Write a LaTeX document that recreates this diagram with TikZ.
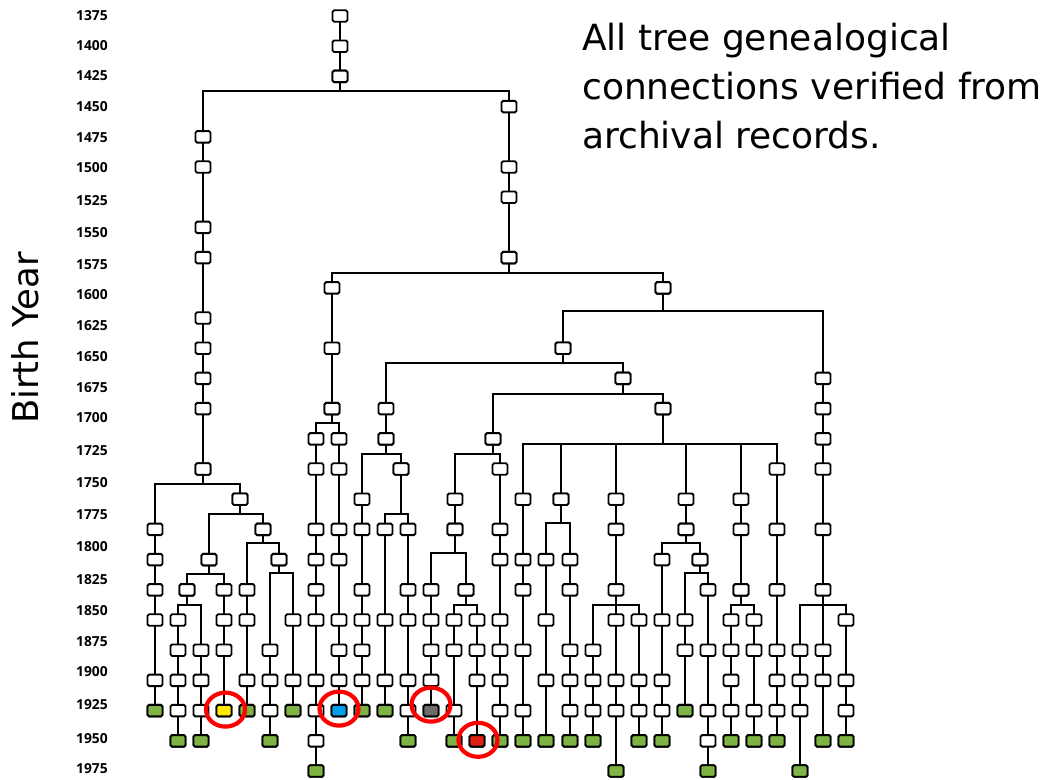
\documentclass[tikz,border=0pt]{standalone}
\usepackage{fontspec}
\usepackage{tikz}
\usetikzlibrary{backgrounds}
\newfontfamily\notefont{DejaVu Sans}
\newfontfamily\yearfont{Open Sans}
\definecolor{icbrte}{rgb}{0.486,0.702,0.259}
\definecolor{ffebqq}{rgb}{1.,0.922,0.}
\definecolor{qqaqep}{rgb}{0.,0.627,0.914}
\definecolor{ueueue}{rgb}{0.431,0.431,0.431}
\definecolor{eqeqwq}{rgb}{0.878,0.125,0.063}
\definecolor{ffqqqq}{rgb}{1.,0.,0.}
% one line of descent: boxes in one column, last box filled with #4
\newcommand{\kinline}[4]{%
  \foreach \k [count=\i] in {#3}{%
    \ifnum\i=1 \xdef\toprow{\k}\fi
    \xdef\endrow{\k}%
    \node[pers] (#1-\k) at (#2,{16+30.2*\k}) {};
  }%
  \node[pers,fill=#4] (#1-\endrow) at (#2,{16+30.2*\endrow}) {};
  \begin{scope}[on background layer]
    \draw[tie] (#1-\toprow.center) -- (#1-\endrow.center);
  \end{scope}%
}
% parent #1, bar at height #2, children #3
\newcommand{\offspring}[3]{%
  \coordinate (split) at (0,#2);
  \begin{scope}[on background layer]
    \foreach \c in {#3}
      \draw[tie] (#1.center) -- (#1.center |- split) -| (\c.center);
  \end{scope}%
}
\begin{document}
\begin{tikzpicture}[x=1pt,y=-1pt,line cap=round,line join=miter,
  pers/.style={draw,line width=1.9pt,fill=white,rounded corners=1.6pt,
    minimum width=15pt,minimum height=11.5pt,inner sep=0pt},
  tie/.style={line width=1.9pt},
  ring/.style={draw=ffqqqq,line width=4.2pt},
  yearlab/.style={anchor=west,inner sep=0pt,font=\yearfont\bfseries\fontsize{13.8}{13.8}\selectfont},
  note/.style={anchor=base west,inner sep=0pt,font=\notefont\fontsize{36}{36}\selectfont}]
\useasboundingbox (0,0) rectangle (1056,779);
% year axis
\foreach \yr/\yy in {1375/16,1400/46,1425/76,1450/107,1475/138,1500/168,1525/201,
  1550/233,1575/265,1600/295,1625/326,1650/357,1675/388,1700/418,1725/451,
  1750/483,1775/515,1800/547,1825/580,1850/611,1875/642,1900/672,1925/705,
  1950/739,1975/769}
  \node[yearlab] (yr\yr) at (76,\yy) {\yr};
\node[rotate=90,anchor=base,inner sep=0pt,font=\notefont\fontsize{35.5}{35.5}\selectfont] (axis) at (38,338) {Birth Year};
\node[note] (note1) at (582,50) {All tree genealogical};
\node[note] (note2) at (582,99) {connections verified from};
\node[note] (note3) at (582,148) {archival records.};
% trunk
\kinline{root}{340}{0,1,2}{white}
\kinline{w}{203}{4,5,7,8,10,11,12,13,15}{white}
\kinline{e}{509}{3,5,6,8}{white}
\offspring{root-2}{91}{w-4,e-3}
% western branch
\kinline{c0}{155}{17,18,19,20,22,23}{icbrte}
\kinline{p240}{240}{16}{white}
\offspring{w-15}{484}{c0-17,p240-16}
\kinline{p209}{209}{18}{white}
\kinline{p263}{263}{17}{white}
\offspring{p240-16}{514}{p209-18,p263-17}
\kinline{p187}{187}{19}{white}
\kinline{c3}{224}{19,20,21,23}{ffebqq}
\offspring{p209-18}{574}{p187-19,c3-19}
\kinline{c1}{178}{20,21,22,23,24}{icbrte}
\kinline{c2}{201}{21,22,23,24}{icbrte}
\offspring{p187-19}{605}{c1-20,c2-21}
\kinline{c4}{247}{19,20,22,23}{icbrte}
\kinline{p278}{279}{18}{white}
\offspring{p263-17}{543}{c4-19,p278-18}
\kinline{c5}{270}{21,22,23,24}{icbrte}
\kinline{c6}{293}{20,22,23}{icbrte}
\offspring{p278-18}{573}{c5-21,c6-20}
% eastern branch
\kinline{p332}{332}{9,11,13}{white}
\kinline{p663}{663}{9}{white}
\offspring{e-8}{273}{p332-9,p663-9}
\kinline{c7}{316}{14,15,17,18,19,20,22,23,24,25}{icbrte}
\kinline{c8}{339}{14,15,17,18,20,21,22,23}{qqaqep}
\offspring{p332-13}{423}{c7-14,c8-14}
\kinline{p563}{563}{11}{white}
\kinline{c29}{823}{12,13,14,15,17,19,21,22,24}{icbrte}
\offspring{p663-9}{311}{p563-11,c29-12}
\kinline{p386}{386}{13,14}{white}
\kinline{p623}{623}{12}{white}
\offspring{p563-11}{363}{p386-13,p623-12}
\kinline{c9}{362}{16,17,19,20,21,22,23}{icbrte}
\kinline{p402}{401}{15}{white}
\offspring{p386-14}{454}{c9-16,p402-15}
\kinline{c10}{385}{17,20,22,23}{icbrte}
\kinline{c11}{408}{17,19,20,22,23,24}{icbrte}
\offspring{p402-15}{514}{c10-17,c11-17}
\kinline{p493}{493}{14}{white}
\kinline{q663}{663}{13}{white}
\offspring{p623-12}{394}{p493-14,q663-13}
\kinline{p455}{455}{16,17}{white}
\kinline{c15}{500}{15,17,18,20,21,22,23,24}{icbrte}
\offspring{p493-14}{454}{p455-16,c15-15}
\kinline{c12}{431}{19,20,21,22,23}{ueueue}
\kinline{p466}{466}{19}{white}
\offspring{p455-17}{553}{c12-19,p466-19}
\kinline{c13}{454}{20,21,23,24}{icbrte}
\kinline{c14}{477}{20,21,22,24}{eqeqwq}
\offspring{p466-19}{605}{c13-20,c14-20}
\kinline{c16}{523}{16,18,19,21,23,24}{icbrte}
\kinline{p561}{561}{16}{white}
\kinline{c20}{616}{16,17,19,20,22,23,25}{icbrte}
\kinline{p686}{686}{16,17}{white}
\kinline{p741}{741}{16,17,19}{white}
\kinline{c27}{777}{15,17,19,21,22,23,24}{icbrte}
\offspring{q663-13}{444}{c16-16,p561-16,c20-16,p686-16,p741-16,c27-15}
\kinline{c17}{546}{18,20,22,24}{icbrte}
\kinline{c18}{570}{18,19,21,22,23,24}{icbrte}
\offspring{p561-16}{523}{c17-18,c18-18}
\kinline{c19}{593}{21,22,23,24}{icbrte}
\kinline{c21}{639}{20,22,23,24}{icbrte}
\offspring{c20-19}{605}{c19-21,c21-20}
\kinline{c22}{662}{18,20,22,23,24}{icbrte}
\kinline{p700}{700}{18}{white}
\offspring{p686-17}{543}{c22-18,p700-18}
\kinline{c23}{685}{20,21,23}{icbrte}
\kinline{c24}{708}{19,21,23,24,25}{icbrte}
\offspring{p700-18}{573}{c23-20,c24-19}
\kinline{c25}{731}{20,21,22,23,24}{icbrte}
\kinline{c26}{754}{20,21,23,24}{icbrte}
\offspring{p741-19}{605}{c25-20,c26-20}
\kinline{c28}{800}{21,22,23,25}{icbrte}
\kinline{c30}{846}{20,22,23,24}{icbrte}
\offspring{c29-19}{605}{c28-21,c30-20}
% marked individuals
\draw[ring] ([xshift=1.5pt,yshift=1pt]c3-23) ellipse (19.5 and 17);
\draw[ring] ([yshift=2pt]c8-23) ellipse (19.5 and 17);
\draw[ring] ([yshift=6pt]c12-23) ellipse (19.5 and 17);
\draw[ring] ([xshift=1pt,yshift=1pt]c14-24) ellipse (19.5 and 17);
\end{tikzpicture}
\end{document}
